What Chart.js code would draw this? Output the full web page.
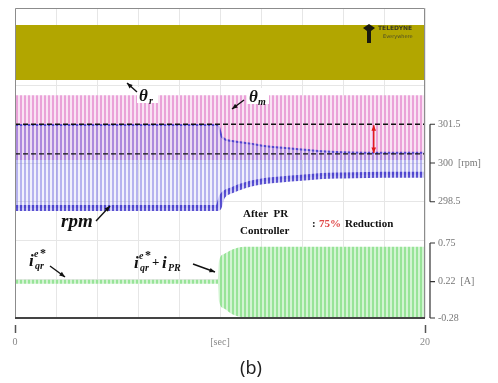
<!DOCTYPE html>
<html>
<head>
<meta charset="UTF-8">
<title>rpm / current with PR controller</title>
<script src="https://cdn.jsdelivr.net/npm/chart.js"></script>
<style>
  body { margin: 0; background: #fff; }
  #wrap { position: relative; width: 498px; height: 383px; }
  #cap { position: absolute; left: 2px; width: 498px; top: 355px; text-align: center; font: 18px 'Noto Sans', sans-serif; color: #222; }
</style>
</head>
<body>
<div id="wrap">
  <canvas id="c" width="498" height="383"></canvas>
  <div id="cap">(b)</div>
</div>
<script>
// time span [sec]
const tSpan = [0, 20];

// theta_r / theta_m traces: envelope, in screen divisions (0 bottom .. 8 top)
const thetaRLow = [6.14, 6.14];
const thetaRHigh = [7.56, 7.56];
const thetaMLow = [4.08, 4.08];
const thetaMHigh = [5.75, 5.75];

// rpm envelope, PR controller switched on near 10 s
const rpmTime = [0, 9.9, 10.1, 10.6, 11.5, 12.0, 13.2, 14.3, 15.0, 16.0, 18.0, 20];
const rpmMax = [301.47, 301.47, 301.0, 300.85, 300.75, 300.68, 300.58, 300.5, 300.45, 300.42, 300.4, 300.4];
const rpmMin = [298.26, 298.26, 298.7, 298.95, 299.2, 299.28, 299.38, 299.45, 299.5, 299.52, 299.54, 299.54];

// dashed reference levels [rpm]
const refLevels = [301.5, 300.35];
const reductionAt = 17.5;

// current envelope [A]
const curTime = [0, 9.9, 9.95, 10.2, 10.6, 11.2, 20];
const curMax = [0.245, 0.245, 0.5, 0.6, 0.66, 0.7, 0.7];
const curMin = [0.19, 0.19, -0.05, -0.15, -0.23, -0.27, -0.27];

// axis labels
const rpmTicks = [301.5, 300, 298.5];
const rpmTickText = ['301.5', '300  [rpm]', '298.5'];
const curTicks = [0.75, 0.22, -0.28];
const curTickText = ['0.75', '0.22  [A]', '-0.28'];
const xTickText = { 0: '0', 10: '[sec]', 20: '20' };

const canvas = document.getElementById('c');
const mainCtx = canvas.getContext('2d');

function stripes(a, b) {
  const cv = document.createElement('canvas');
  cv.width = 4; cv.height = 4;
  const g = cv.getContext('2d');
  g.fillStyle = b; g.fillRect(0, 0, 4, 4);
  g.fillStyle = a; g.fillRect(0, 0, 2, 4);
  return mainCtx.createPattern(cv, 'repeat');
}

const pinkFill = stripes('#eaa2d8', '#f9e3f3');
const blueFill = stripes('rgba(110,105,225,0.45)', 'rgba(180,180,240,0.18)');
const blueEdge = stripes('rgba(60,50,200,0.8)', 'rgba(130,125,230,0.35)');
const greenFill = stripes('#98e498', '#d2f4d2');

const pts = (xs, ys) => xs.map((x, i) => ({ x, y: ys[i] }));
const base = { pointRadius: 0, borderWidth: 0, fill: false };
const noPad = s => { s.paddingTop = 0; s.paddingBottom = 0; s.paddingLeft = 0; s.paddingRight = 0; };

function arrow(ctx, x1, y1, x2, y2, color, both) {
  const ang = Math.atan2(y2 - y1, x2 - x1);
  ctx.strokeStyle = color; ctx.fillStyle = color; ctx.lineWidth = 1.4;
  ctx.beginPath(); ctx.moveTo(x1, y1); ctx.lineTo(x2, y2); ctx.stroke();
  const head = (x, y, a) => {
    ctx.beginPath();
    ctx.moveTo(x, y);
    ctx.lineTo(x - 6 * Math.cos(a - 0.4), y - 6 * Math.sin(a - 0.4));
    ctx.lineTo(x - 6 * Math.cos(a + 0.4), y - 6 * Math.sin(a + 0.4));
    ctx.closePath(); ctx.fill();
  };
  head(x2, y2, ang);
  if (both) head(x1, y1, ang + Math.PI);
}

// i_qr^e* style label
function iLabel(ctx, x, y) {
  ctx.font = 'bold italic 17px "Liberation Serif"';
  ctx.fillText('i', x, y);
  ctx.font = 'bold italic 10px "Liberation Serif"';
  ctx.fillText('e', x + 5, y - 9);
  ctx.font = 'bold 12px "Liberation Serif"';
  ctx.fillText('*', x + 11, y - 9);
  ctx.font = 'bold italic 10px "Liberation Serif"';
  ctx.fillText('qr', x + 6, y + 3);
}

const decor = {
  id: 'decor',
  afterDatasetsDraw(chart) {
    const { ctx, chartArea: a, scales } = chart;
    const { x, yRpm, yCur } = scales;
    ctx.save();

    // frame
    ctx.strokeStyle = '#8c8c8c'; ctx.lineWidth = 1;
    ctx.beginPath();
    ctx.moveTo(a.left + 0.5, a.bottom); ctx.lineTo(a.left + 0.5, a.top + 0.5);
    ctx.lineTo(a.right - 0.5, a.top + 0.5); ctx.lineTo(a.right - 0.5, a.bottom);
    ctx.stroke();
    ctx.strokeStyle = '#444'; ctx.lineWidth = 2;
    ctx.beginPath(); ctx.moveTo(a.left, a.bottom); ctx.lineTo(a.right, a.bottom); ctx.stroke();

    // right brackets
    ctx.strokeStyle = '#333'; ctx.lineWidth = 1.2;
    [[yRpm, rpmTicks], [yCur, curTicks]].forEach(([s, ticks]) => {
      const bx = a.right + 5;
      const ys = ticks.map(v => s.getPixelForValue(v));
      ctx.beginPath();
      ctx.moveTo(bx, Math.min(...ys)); ctx.lineTo(bx, Math.max(...ys));
      ys.forEach(yy => { ctx.moveTo(bx, yy); ctx.lineTo(bx + 5, yy); });
      ctx.stroke();
    });

    // bottom end ticks
    ctx.strokeStyle = '#555'; ctx.lineWidth = 1.5;
    [0, 20].forEach(t => {
      const px = Math.round(x.getPixelForValue(t)) + 0.5;
      ctx.beginPath(); ctx.moveTo(px, a.bottom + 7); ctx.lineTo(px, a.bottom + 15); ctx.stroke();
    });

    // reduction arrow
    const rx = x.getPixelForValue(reductionAt);
    arrow(ctx, rx, yRpm.getPixelForValue(refLevels[0]) + 1, rx, yRpm.getPixelForValue(refLevels[1]) - 1, '#e01818', true);

    // theta labels
    ctx.fillStyle = '#fff';
    ctx.fillRect(137, 87, 21, 16);
    ctx.fillRect(247, 88, 22, 16);
    ctx.fillStyle = '#111';
    ctx.font = 'bold italic 17px "Liberation Serif"';
    ctx.fillText('\u03b8', 139, 101);
    ctx.fillText('\u03b8', 249, 102);
    ctx.font = 'bold italic 10px "Liberation Serif"';
    ctx.fillText('r', 149, 104);
    ctx.fillText('m', 258, 105);
    arrow(ctx, 137, 92, 127, 83, '#111');
    arrow(ctx, 244, 100, 232, 109, '#111');

    // rpm label
    ctx.fillStyle = '#111';
    ctx.font = 'bold italic 19px "Liberation Serif"';
    ctx.fillText('rpm', 61, 227);
    arrow(ctx, 96, 221, 110, 206, '#111');

    // current labels
    iLabel(ctx, 29, 266);
    arrow(ctx, 50, 266, 65, 277, '#111');
    iLabel(ctx, 134, 268);
    ctx.font = 'bold 13px "Liberation Serif"';
    ctx.fillText('+', 152, 266);
    ctx.font = 'bold italic 17px "Liberation Serif"';
    ctx.fillText('i', 162, 268);
    ctx.font = 'bold italic 10px "Liberation Serif"';
    ctx.fillText('PR', 168, 271);
    arrow(ctx, 193, 264, 215, 272, '#111');

    // PR note
    ctx.font = 'bold 11px "Liberation Serif"';
    ctx.fillStyle = '#111';
    ctx.fillText('After  PR', 243, 217);
    ctx.fillText('Controller', 240, 234);
    ctx.fillText(':', 312, 227);
    ctx.fillStyle = '#e04848';
    ctx.fillText('75%', 319, 227);
    ctx.fillStyle = '#111';
    ctx.fillText('Reduction', 345, 227);

    // scope logo
    ctx.fillStyle = '#1a1a10';
    ctx.beginPath();
    ctx.moveTo(363, 28); ctx.lineTo(369, 24); ctx.lineTo(375, 28);
    ctx.lineTo(371, 31); ctx.lineTo(371, 43); ctx.lineTo(367, 43); ctx.lineTo(367, 31);
    ctx.closePath(); ctx.fill();
    ctx.fillStyle = '#3a3a20';
    ctx.font = 'bold 6px "DejaVu Sans"';
    ctx.fillText('TELEDYNE', 378, 30);
    ctx.font = '5px "DejaVu Sans"';
    ctx.fillStyle = '#4a4a28';
    ctx.fillText('Everywhere', 383, 38);

    ctx.restore();
  }
};

const tickFont = { family: 'Liberation Serif', size: 10 };

new Chart(canvas, {
  type: 'line',
  data: {
    datasets: [
      { ...base, data: pts(tSpan, thetaRLow), yAxisID: 'yDiv', order: 10 },
      { ...base, data: pts(tSpan, thetaRHigh), yAxisID: 'yDiv', order: 10, fill: '-1', backgroundColor: '#b2a600' },
      { ...base, data: pts(tSpan, thetaMLow), yAxisID: 'yDiv', order: 9 },
      { ...base, data: pts(tSpan, thetaMHigh), yAxisID: 'yDiv', order: 9, fill: '-1', backgroundColor: pinkFill },
      { ...base, data: pts(rpmTime, rpmMin), yAxisID: 'yRpm', order: 8, borderWidth: 6, borderColor: blueEdge, cubicInterpolationMode: 'monotone' },
      { ...base, data: pts(rpmTime, rpmMax), yAxisID: 'yRpm', order: 8, borderWidth: 2, borderColor: blueEdge, cubicInterpolationMode: 'monotone', fill: '-1', backgroundColor: blueFill },
      { ...base, data: pts(curTime, curMin), yAxisID: 'yCur', order: 7, cubicInterpolationMode: 'monotone' },
      { ...base, data: pts(curTime, curMax), yAxisID: 'yCur', order: 7, cubicInterpolationMode: 'monotone', fill: '-1', backgroundColor: greenFill },
      { ...base, data: pts(tSpan, [refLevels[0], refLevels[0]]), yAxisID: 'yRpm', order: 1, borderWidth: 1.3, borderColor: '#111', borderDash: [5, 3] },
      { ...base, data: pts(tSpan, [refLevels[1], refLevels[1]]), yAxisID: 'yRpm', order: 1, borderWidth: 1.3, borderColor: '#111', borderDash: [5, 3] }
    ]
  },
  options: {
    responsive: false,
    animation: false,
    devicePixelRatio: 1,
    layout: { padding: { top: 8, left: 15, right: 0, bottom: 0 } },
    plugins: { legend: { display: false }, tooltip: { enabled: false } },
    scales: {
      x: {
        type: 'linear', min: 0, max: 20, position: 'bottom',
        grid: { color: '#e6e6e6', drawTicks: false },
        border: { display: false },
        ticks: { stepSize: 2, autoSkip: false, maxRotation: 0, padding: 18, color: '#888', font: tickFont,
          callback: v => xTickText[v] ?? '' },
        afterFit: s => { s.height = 65; noPad(s); }
      },
      yDiv: {
        position: 'left', min: 0, max: 8,
        grid: { color: '#e6e6e6', drawTicks: false },
        border: { display: false },
        ticks: { display: false, stepSize: 1 },
        afterFit: s => { s.width = 0; noPad(s); }
      },
      yRpm: {
        position: 'right', stack: 'r', stackWeight: 215, min: 297.677, max: 306,
        grid: { drawOnChartArea: false, drawTicks: false },
        border: { display: false },
        afterBuildTicks: s => { s.ticks = rpmTicks.map(v => ({ value: v })); },
        ticks: { padding: 13, color: '#777', font: tickFont, callback: (v, i) => rpmTickText[i] },
        afterFit: s => { s.width = 73; noPad(s); }
      },
      yCur: {
        position: 'right', stack: 'r', stackWeight: 95, min: -0.28, max: 1.025,
        grid: { drawOnChartArea: false, drawTicks: false },
        border: { display: false },
        afterBuildTicks: s => { s.ticks = curTicks.map(v => ({ value: v })); },
        ticks: { padding: 13, color: '#777', font: tickFont, callback: (v, i) => curTickText[i] },
        afterFit: s => { s.width = 73; noPad(s); }
      }
    }
  },
  plugins: [decor]
});
</script>
</body>
</html>
